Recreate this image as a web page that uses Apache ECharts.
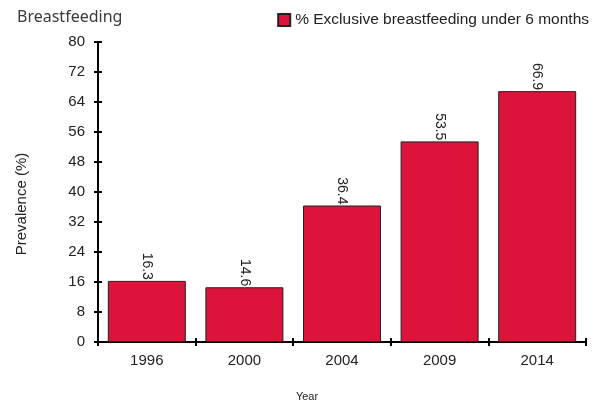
<!DOCTYPE html>
<html><head><meta charset="utf-8">
<script src="https://cdn.jsdelivr.net/npm/echarts@6/dist/echarts.min.js"></script>
<style>html,body{margin:0;padding:0;background:#fff}#c{width:600px;height:403px}</style>
</head><body><div id="c"></div>
<script>
var categories = ['1996', '2000', '2004', '2009', '2014'];
var values = [16.3, 14.6, 36.4, 53.5, 66.9];
var seriesName = '% Exclusive breastfeeding under 6 months';
var font = 'Liberation Sans, Arial, sans-serif';
var chart = echarts.init(document.getElementById('c'));
var axisLine = {show: true, lineStyle: {color: '#000', width: 2}};
chart.setOption({
  animation: false,
  title: {text: 'Breastfeeding', left: 12, top: 4, textStyle: {fontFamily: 'Noto Sans', fontSize: 16, fontWeight: 'normal', color: '#3a3a3a'}},
  legend: {top: 7, right: 6, itemWidth: 12, itemHeight: 12, itemGap: 6,
    textStyle: {fontFamily: font, fontSize: 15.5, color: '#222'},
    data: [{name: seriesName, icon: 'rect'}]},
  grid: {left: 98, top: 42, right: 14, bottom: 61, containLabel: false, outerBoundsMode: 'none'},
  xAxis: [{type: 'category', data: categories, name: 'Year', nameLocation: 'middle', nameGap: 49,
    nameTextStyle: {fontFamily: font, fontSize: 11, color: '#222', padding: [0, 70, 0, 0]},
    axisLine: axisLine, axisTick: {show: true, length: 4, lineStyle: {color: '#000', width: 2}},
    axisLabel: {fontFamily: font, fontSize: 15, color: '#222', margin: 11}},
    {type: 'category', data: categories, position: 'bottom', axisLine: {show: false},
    axisTick: {show: true, inside: true, length: 4, lineStyle: {color: '#000', width: 2}}, axisLabel: {show: false}}],
  yAxis: [{type: 'value', min: 0, max: 80, interval: 8, name: 'Prevalence (%)', nameLocation: 'middle', nameGap: 69,
    nameTextStyle: {fontFamily: font, fontSize: 15, color: '#222', padding: [0, 24, 0, 0]},
    axisLine: axisLine, axisTick: {show: true, length: 4, lineStyle: {color: '#000', width: 2}},
    splitLine: {show: false},
    axisLabel: {fontFamily: font, fontSize: 15, color: '#222', margin: 13}},
    {type: 'value', min: 0, max: 80, interval: 8, position: 'left', axisLine: {show: false},
    axisTick: {show: true, inside: true, length: 4, lineStyle: {color: '#000', width: 2}},
    splitLine: {show: false}, axisLabel: {show: false}}],
  series: [{name: seriesName, type: 'bar', data: values, barWidth: 78,
    itemStyle: {color: '#DC143C', borderColor: '#222', borderWidth: 1},
    label: {show: true, position: 'top', distance: 1, rotate: -90, align: 'right', verticalAlign: 'middle',
      fontFamily: font, fontSize: 14, color: '#222'}}]
});
</script></body></html>
